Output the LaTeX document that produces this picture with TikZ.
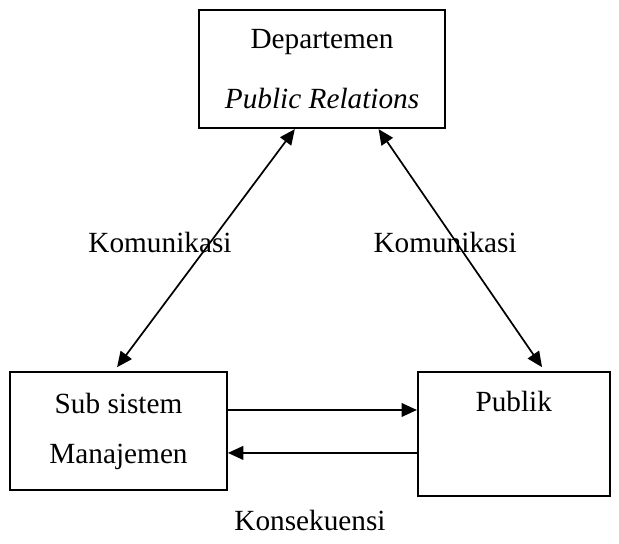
\documentclass[tikz,border=0pt]{standalone}
\usepackage{fontspec}
\setmainfont{Liberation Serif}
\usetikzlibrary{arrows.meta,positioning,calc}

\begin{document}
\begin{tikzpicture}[
    every node/.style={font=\fontsize{12}{14.5}\selectfont},
    box/.style={draw, line width=0.7pt, align=center, inner sep=0pt},
    flow/.style={-{Triangle[length=6.3pt,width=5.6pt]}, line width=0.7pt},
    twoway/.style={{Triangle[length=6.3pt,width=5.6pt]}-{Triangle[length=6.3pt,width=5.6pt]}, line width=0.7pt}
]
\useasboundingbox (0,0) rectangle (253.8pt,223pt);
\node[box, minimum width=89pt, minimum height=48.4pt] (sub) at (48.6pt,46.3pt) {Sub sistem\\[6pt]Manajemen};
\node[box, minimum width=78.7pt, minimum height=50.8pt, right=77.5pt of sub.north east, anchor=north west] (publik) {Publik\\[7.5pt]\strut};
\node[box, minimum width=100.9pt, minimum height=48.4pt, above right=99.2pt and 77.5pt of sub.north west, anchor=south west] (dept) {Departemen\\[10pt]\textit{Public Relations}};
\node (komkiri) at (65.6pt,123.4pt) {Komunikasi};
\node (komkanan) at (182.5pt,123.4pt) {Komunikasi};
\node (konsekuensi) at (127.1pt,9.8pt) {Konsekuensi};
\draw[twoway] ($(dept.south west)!0.39!(dept.south east)$) -- ($(sub.north)+(-0.6pt,1.6pt)$);
\draw[twoway] ($(dept.south west)!0.728!(dept.south east)$) -- ($(publik.north west)!0.646!(publik.north east)+(0,1.6pt)$);
\draw[flow] ($(sub.east)+(0,8.6pt)$) -- ($(sub.east -| publik.west)+(0,8.6pt)$);
\draw[flow] ($(sub.east -| publik.west)+(0,-9pt)$) -- ($(sub.east)+(0,-9pt)$);
\end{tikzpicture}
\end{document}
